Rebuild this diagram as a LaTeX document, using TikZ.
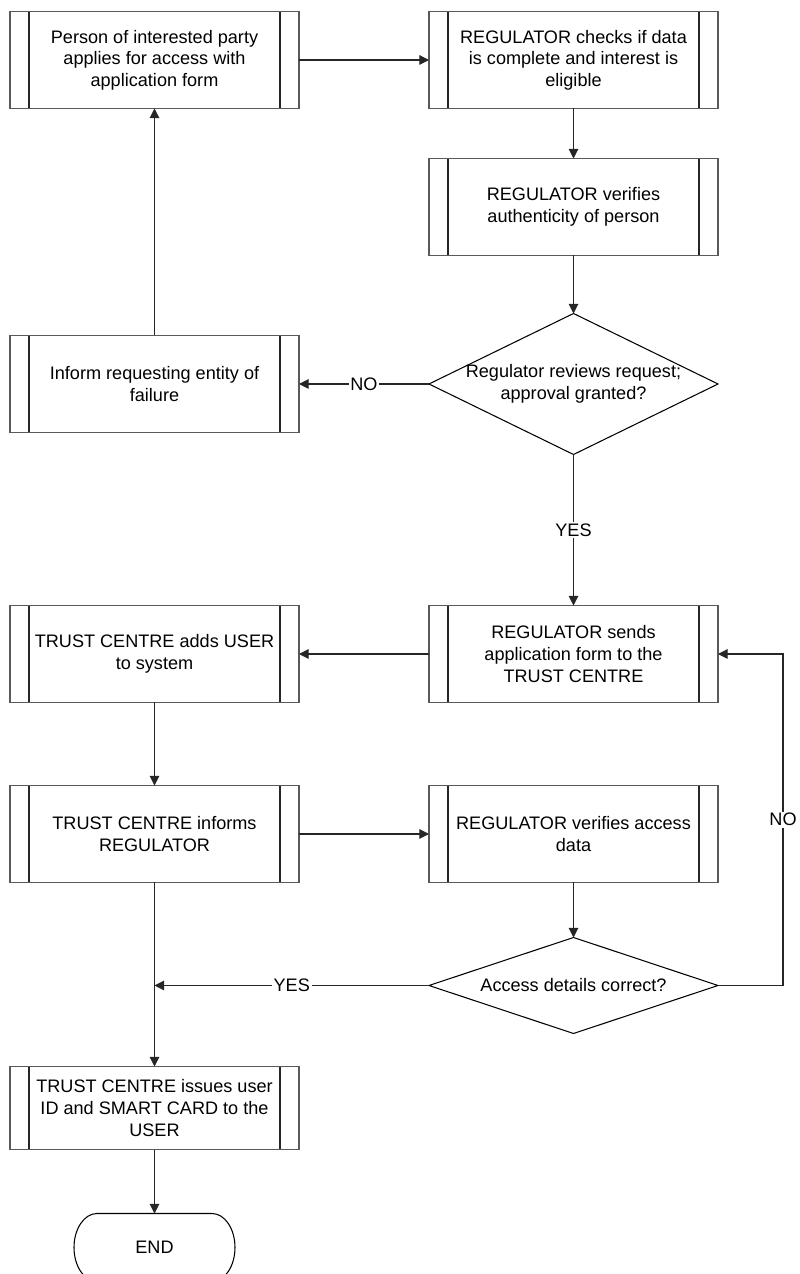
\documentclass[tikz,border=0pt]{standalone}
\usepackage{fontspec}
\setmainfont{Liberation Sans}
\usetikzlibrary{shapes.geometric, positioning, arrows.meta, calc}

\begin{document}
\begin{tikzpicture}[
        line width=0.6pt,
        font=\fontsize{10.3}{12.3}\selectfont,
        % Define block styles
        process/.style={draw=black!65, rectangle, minimum width=5.78cm, minimum height=1.94cm, inner sep=2pt, outer sep=0pt, align=center,
            path picture={
                \draw[black!85] ([xshift=0.38cm]path picture bounding box.north west) -- ([xshift=0.38cm]path picture bounding box.south west);
                \draw[black!85] ([xshift=-0.38cm]path picture bounding box.north east) -- ([xshift=-0.38cm]path picture bounding box.south east);
            }},
        decision/.style={draw, diamond, minimum width=5.78cm, inner sep=0pt, outer sep=0pt, align=center},
        terminal/.style={rectangle, minimum width=3.22cm, minimum height=1.36cm, outer sep=0pt},
        arrow/.style={draw=black!85, -{Triangle[length=5.5pt, width=5.5pt]}},
        lbl/.style={fill=white, inner sep=1pt}
    ]

    \useasboundingbox (0,0) rectangle (15.98,25.48);
    \clip (0,0) rectangle (15.98,25.48);

    % --- Nodes Placement ---
    \node[process] (apply) at (3.09,24.28) {Person of interested party\\applies for access with\\application form};
    \node[process, right=2.6cm of apply] (check) {REGULATOR checks if data\\is complete and interest is\\eligible};
    \node[process, below=1cm of check] (verify) {REGULATOR verifies\\authenticity of person};

    % text runs a little over the edges, as in the original
    \node[decision, aspect=2.05, minimum height=2.82cm, inner sep=-1.5pt, below=1.16cm of verify] (review) {Regulator reviews request;\\approval granted?};
    \node[process, left=2.6cm of review] (fail) {Inform requesting entity of\\failure};

    \node[process, below=3.02cm of review] (send) {REGULATOR sends\\application form to the\\TRUST CENTRE};
    \node[process, left=2.6cm of send] (adduser) {TRUST CENTRE adds USER\\to system};

    \node[process, below=1.66cm of adduser] (informreg) {TRUST CENTRE informs\\REGULATOR};
    \node[process, right=2.6cm of informreg] (verifyacc) {REGULATOR verifies access\\data};

    \node[decision, aspect=3, minimum height=1.92cm, below=1.1cm of verifyacc] (details) {Access details correct?};

    \node[process, minimum height=1.66cm, below=3.68cm of informreg] (issue) {TRUST CENTRE issues user\\ID and SMART CARD to the\\USER};
    \node[terminal, below=1.28cm of issue] (finish) {END};
    % outline of the end terminal
    \draw ([xshift=0.46cm]finish.north west) -- ([xshift=-0.46cm]finish.north east)
        arc[start angle=90, end angle=-90, x radius=0.46cm, y radius=0.68cm]
        -- ([xshift=0.46cm]finish.south west)
        arc[start angle=270, end angle=90, x radius=0.46cm, y radius=0.68cm] -- cycle;

    % turning point of the NO loop
    \coordinate (noturn) at ($(details.east)+(1.3cm,0)$);

    % --- Connections / Arrows ---
    \draw[arrow] (apply) -- (check);
    \draw[arrow] (check) -- (verify);
    \draw[arrow] (verify) -- (review);
    \draw[arrow] (review.west) -- node[lbl] {NO} (fail.east);
    \draw[arrow] (fail) -- (apply);
    \draw[arrow] (review.south) -- node[lbl] {YES} (send.north);
    \draw[arrow] (send) -- (adduser);
    \draw[arrow] (adduser) -- (informreg);
    \draw[arrow] (informreg) -- (verifyacc);
    \draw[arrow] (verifyacc) -- (details);
    \draw[arrow] (details.west) -- node[lbl] {YES} (informreg.south |- details.west);
    \draw[arrow] (details.east) -- (noturn) -- node[lbl] {NO} (noturn |- send.east) -- (send.east);
    \draw[arrow] (informreg) -- (issue);
    \draw[arrow] (issue) -- (finish);

\end{tikzpicture}
\end{document}
